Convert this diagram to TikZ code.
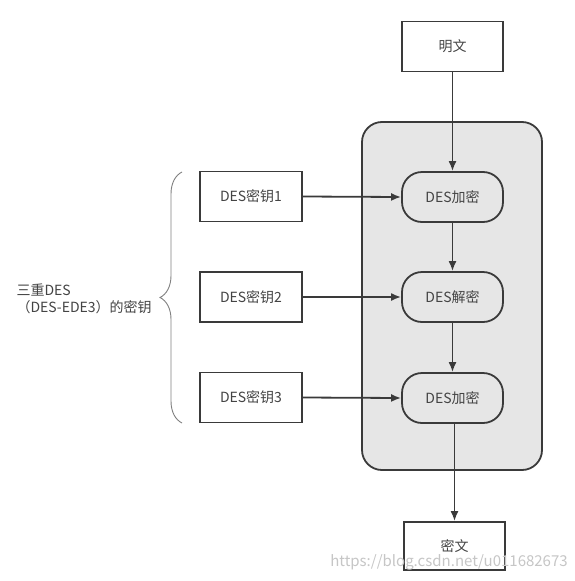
\documentclass[tikz,border=0pt]{standalone}
\usepackage{fontspec}
\setmainfont{Noto Sans CJK SC}
\usetikzlibrary{arrows.meta,decorations.pathreplacing}
\definecolor{linegray}{HTML}{3A3A3A}
\definecolor{textgray}{HTML}{444444}
\definecolor{panelgray}{HTML}{E6E6E6}
\begin{document}
\begin{tikzpicture}[x=1pt,y=-1pt,
  box/.style={draw=linegray,line width=1.8pt,fill=white,minimum width=101pt,minimum height=50pt,inner sep=0pt,text=textgray,font=\fontsize{14}{16}\selectfont},
  proc/.style={box,fill=panelgray,rounded corners=20pt},
  arr/.style={draw=linegray,line width=1.8pt,-{Latex[length=10pt,width=8pt]}}]
\useasboundingbox (0,0) rectangle (575,581);
\fill[white] (0,0) rectangle (575,581);
\draw[draw=linegray,line width=1.8pt,fill=panelgray,rounded corners=20pt] (362,122) rectangle (542,470);
\node[box] (plain) at (452.5,46.5) {明文};
\node[proc] (enc1) at (452.5,197) {DES加密};
\node[proc] (dec) at (452.5,297) {DES解密};
\node[proc] (enc2) at (452.5,398) {DES加密};
\node[box,minimum height=48pt] (cipher) at (454.5,546) {密文};
\node[box,minimum width=102pt] (key1) at (251,196.5) {DES密钥1};
\node[box,minimum width=102pt] (key2) at (251,297) {DES密钥2};
\node[box,minimum width=102pt] (key3) at (251,397.5) {DES密钥3};
\coordinate (bracebot) at (182,423);
\coordinate (bracetop) at (182,172);
\draw[draw=gray,line width=0.9pt,decorate,decoration={brace,amplitude=22pt}] (bracebot) -- (bracetop);
\node[anchor=west,align=left,text=textgray,font=\fontsize{14}{17}\selectfont] (keys) at (13,298.5) {三重DES\\（DES-EDE3）的密钥};
\draw[arr] (plain.south) -- (enc1.north);
\draw[arr] (enc1.south) -- (dec.north);
\draw[arr] (dec.south) -- (enc2.north);
\draw[arr] (enc2.south -| cipher.north) -- (cipher.north);
\foreach \k/\p in {key1/enc1,key2/dec,key3/enc2}
  \draw[arr] (\k.east) -- (\p.west);
\node[text=gray!45,font=\fontsize{15}{17}\selectfont] (mark) at (449,562) {https://blog.csdn.net/u011682673};
\end{tikzpicture}
\end{document}
